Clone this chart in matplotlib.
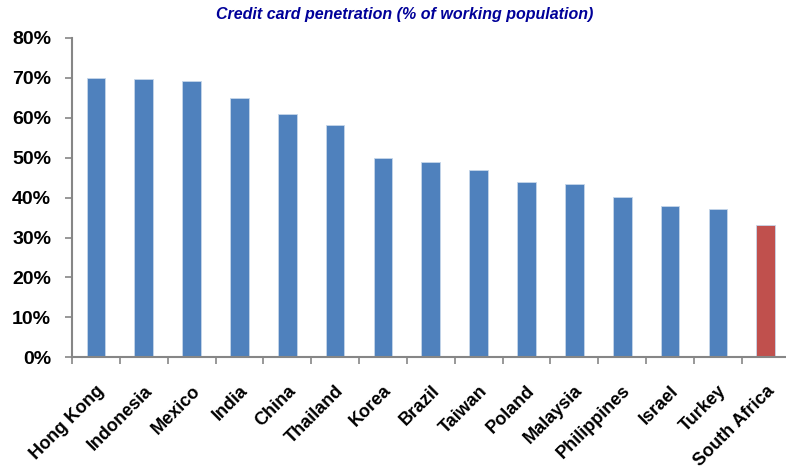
import matplotlib.pyplot as plt
import numpy as np
from matplotlib.ticker import FixedLocator, PercentFormatter

countries = ['Hong Kong', 'Indonesia', 'Mexico', 'India', 'China', 'Thailand',
             'Korea', 'Brazil', 'Taiwan', 'Poland', 'Malaysia', 'Philippines',
             'Israel', 'Turkey', 'South Africa']
penetration = [70.1, 69.7, 69.2, 64.9, 61.0, 58.1, 50.0, 49.0, 46.8, 43.9,
               43.5, 40.1, 37.8, 37.1, 33.1]
highlight = 'South Africa'

blue = '#4F81BD'
red = '#C0504D'
grey = '#868686'

plt.rcParams['font.family'] = ['Liberation Sans', 'DejaVu Sans']

fig = plt.figure(figsize=(7.86, 4.75), dpi=100)
ax = fig.add_axes([0.0916, 0.248, 0.913, 0.672])

x = np.arange(len(countries))
colors = [red if c == highlight else blue for c in countries]
ax.bar(x, penetration, width=0.39, color=colors, edgecolor='#C6D6EA',
       linewidth=0.6, zorder=2)

ax.set_xlim(-0.5, len(countries) - 0.5)
ax.set_ylim(0, 80)
ax.set_yticks(np.arange(0, 81, 10))
ax.yaxis.set_major_formatter(PercentFormatter(decimals=0))

# category labels sit at the bar centres, tick marks at the boundaries
ax.set_xticks(x)
ax.set_xticklabels(countries, rotation=45, ha='right', va='top',
                   rotation_mode='anchor', fontsize=13, fontweight='bold')
ax.xaxis.set_minor_locator(FixedLocator(np.arange(-0.5, len(countries), 1.0)))
ax.tick_params(axis='x', which='major', length=0, pad=18)
ax.tick_params(axis='x', which='minor', length=5, width=1.2, color=grey)
ax.tick_params(axis='y', length=5, width=1.2, color=grey, pad=10,
               labelsize=14)
for lab in ax.get_yticklabels():
    lab.set_fontweight('bold')

for side in ['top', 'right']:
    ax.spines[side].set_visible(False)
for side in ['left', 'bottom']:
    ax.spines[side].set_color(grey)
    ax.spines[side].set_linewidth(1.5)

fig.text(0.515, 0.97, 'Credit card penetration (% of working population)',
         ha='center', va='center', fontsize=11.5, fontweight='bold',
         fontstyle='italic', color='#000099')

fig.savefig('out.png', dpi=100)
